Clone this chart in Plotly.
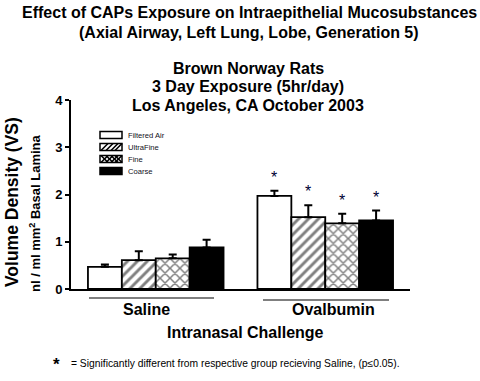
import plotly.graph_objects as go

groups = ["Saline", "Ovalbumin"]
series = ["Filtered Air", "UltraFine", "Fine", "Coarse"]
values = {
    "Filtered Air": [0.47, 1.97],
    "UltraFine": [0.61, 1.52],
    "Fine": [0.65, 1.39],
    "Coarse": [0.88, 1.45],
}
errors = {
    "Filtered Air": [0.05, 0.11],
    "UltraFine": [0.19, 0.25],
    "Fine": [0.08, 0.20],
    "Coarse": [0.16, 0.21],
}
significant = {  # star on Ovalbumin bars
    "Filtered Air": [False, True],
    "UltraFine": [False, True],
    "Fine": [False, True],
    "Coarse": [False, True],
}
yticks = [0, 1, 2, 3, 4]

W, H = 480, 381
L, R, T, B = 71, 410, 100, 289
FONT = "Liberation Sans, Arial, sans-serif"


def px(x):
    return (x - L) / (R - L)


def py(y):
    return (B - y) / (B - T)


styles = {
    "Filtered Air": dict(color="white", pattern=None),
    "UltraFine": dict(color="white", pattern=dict(shape="/", fgcolor="black", bgcolor="white", size=7, solidity=0.42)),
    "Fine": dict(color="white", pattern=dict(shape="x", fgcolor="black", bgcolor="white", size=7, solidity=0.38)),
    "Coarse": dict(color="black", pattern=None),
}

fig = go.Figure()
for s in series:
    marker = dict(color=styles[s]["color"], line=dict(color="black", width=1.8))
    if styles[s]["pattern"]:
        marker["pattern"] = styles[s]["pattern"]
    fig.add_trace(go.Bar(
        x=groups, y=values[s], name=s, marker=marker,
        error_y=dict(type="data", array=errors[s], arrayminus=[0] * len(groups), symmetric=False,
                     color="black", thickness=2, width=4),
        showlegend=False,
    ))

annotations = []
# stars
n = len(series)
for i, s in enumerate(series):
    for g in range(len(groups)):
        if significant[s][g]:
            xpos = g + (i - (n - 1) / 2) * 0.2
            annotations.append(dict(x=xpos, y=values[s][g] + errors[s][g], xref="x", yref="y",
                                    text="*", showarrow=False, yanchor="bottom", yshift=3,
                                    font=dict(family=FONT, size=16, color="#000033")))


def txt(text, x, y, size, bold=True, xanchor="center", angle=0, color="black"):
    annotations.append(dict(x=px(x), y=py(y), xref="paper", yref="paper",
                            text=("<b>%s</b>" % text) if bold else text, showarrow=False,
                            xanchor=xanchor, yanchor="middle", textangle=angle,
                            font=dict(family=FONT, size=size, color=color)))


txt("Effect of CAPs Exposure on Intraepithelial Mucosubstances", 249.5, 12, 16)
txt("(Axial Airway, Left Lung, Lobe, Generation 5)", 248.5, 32, 16)
txt("Brown Norway Rats", 248, 68, 16)
txt("3 Day Exposure (5hr/day)", 248, 87, 16)
txt("Los Angeles, CA October 2003", 248, 105, 16)
txt("Volume Density (VS)", 12, 202, 17.5, angle=-90)
txt("nl / ml mm<sup>2</sup> Basal Lamina", 35, 213, 13, angle=-90)
txt("Saline", 146, 309, 16)
txt("Ovalbumin", 333, 309, 16)
txt("Intranasal Challenge", 245, 332, 16)
txt("*", 56, 364, 17)
txt("= Significantly different from respective group recieving Saline, (p\u22640.05).", 69, 363, 10.3,
    bold=False, xanchor="left")

shapes = []
# group underlines
for x0, x1, y in [(89, 214, 298), (263, 389, 300)]:
    shapes.append(dict(type="line", xref="paper", yref="paper", x0=px(x0), x1=px(x1), y0=py(y), y1=py(y),
                       line=dict(color="black", width=1.2)))

# custom legend
bx0, bx1 = 100, 122
rows = [135, 147, 159, 171]
for s, yc in zip(series, rows):
    y0, y1 = yc - 3.5, yc + 3.5
    fill = "black" if s == "Coarse" else "white"
    shapes.append(dict(type="rect", xref="paper", yref="paper", x0=px(bx0), x1=px(bx1), y0=py(y1), y1=py(y0),
                       fillcolor=fill, line=dict(color="black", width=1.5)))
    if s in ("UltraFine", "Fine"):
        for xs in [101, 106, 111, 115]:
            shapes.append(dict(type="line", xref="paper", yref="paper", x0=px(xs), y0=py(y1),
                               x1=px(xs + 7), y1=py(y0), line=dict(color="black", width=1.6)))
    if s == "Fine":
        for xs in [101, 106, 111, 115]:
            shapes.append(dict(type="line", xref="paper", yref="paper", x0=px(xs), y0=py(y0),
                               x1=px(xs + 7), y1=py(y1), line=dict(color="black", width=1.6)))
    txt(s, 126, yc, 7.6, bold=False, xanchor="left", color="#111122")

fig.update_layout(
    width=W, height=H,
    margin=dict(l=L, r=W - R, t=T, b=H - B, pad=0),
    paper_bgcolor="white", plot_bgcolor="white",
    barmode="group", bargap=0.2, bargroupgap=0,
    annotations=annotations, shapes=shapes,
    font=dict(family=FONT, color="black"),
)
fig.update_xaxes(range=[-0.5, 1.5], showticklabels=False, ticks="", showgrid=False, zeroline=False,
                 showline=True, linecolor="black", linewidth=2, fixedrange=True)
fig.update_yaxes(range=[0, 4], tickvals=yticks, ticks="outside", ticklen=4, tickwidth=2, tickcolor="black",
                 showgrid=False, zeroline=False, showline=True, linecolor="black", linewidth=2,
                 tickfont=dict(family=FONT, size=13, color="black", weight="bold"), automargin=False)

fig.write_html("out.html", config={"displayModeBar": False},
               post_script="document.body.style.margin='0';document.body.style.overflow='hidden';")
